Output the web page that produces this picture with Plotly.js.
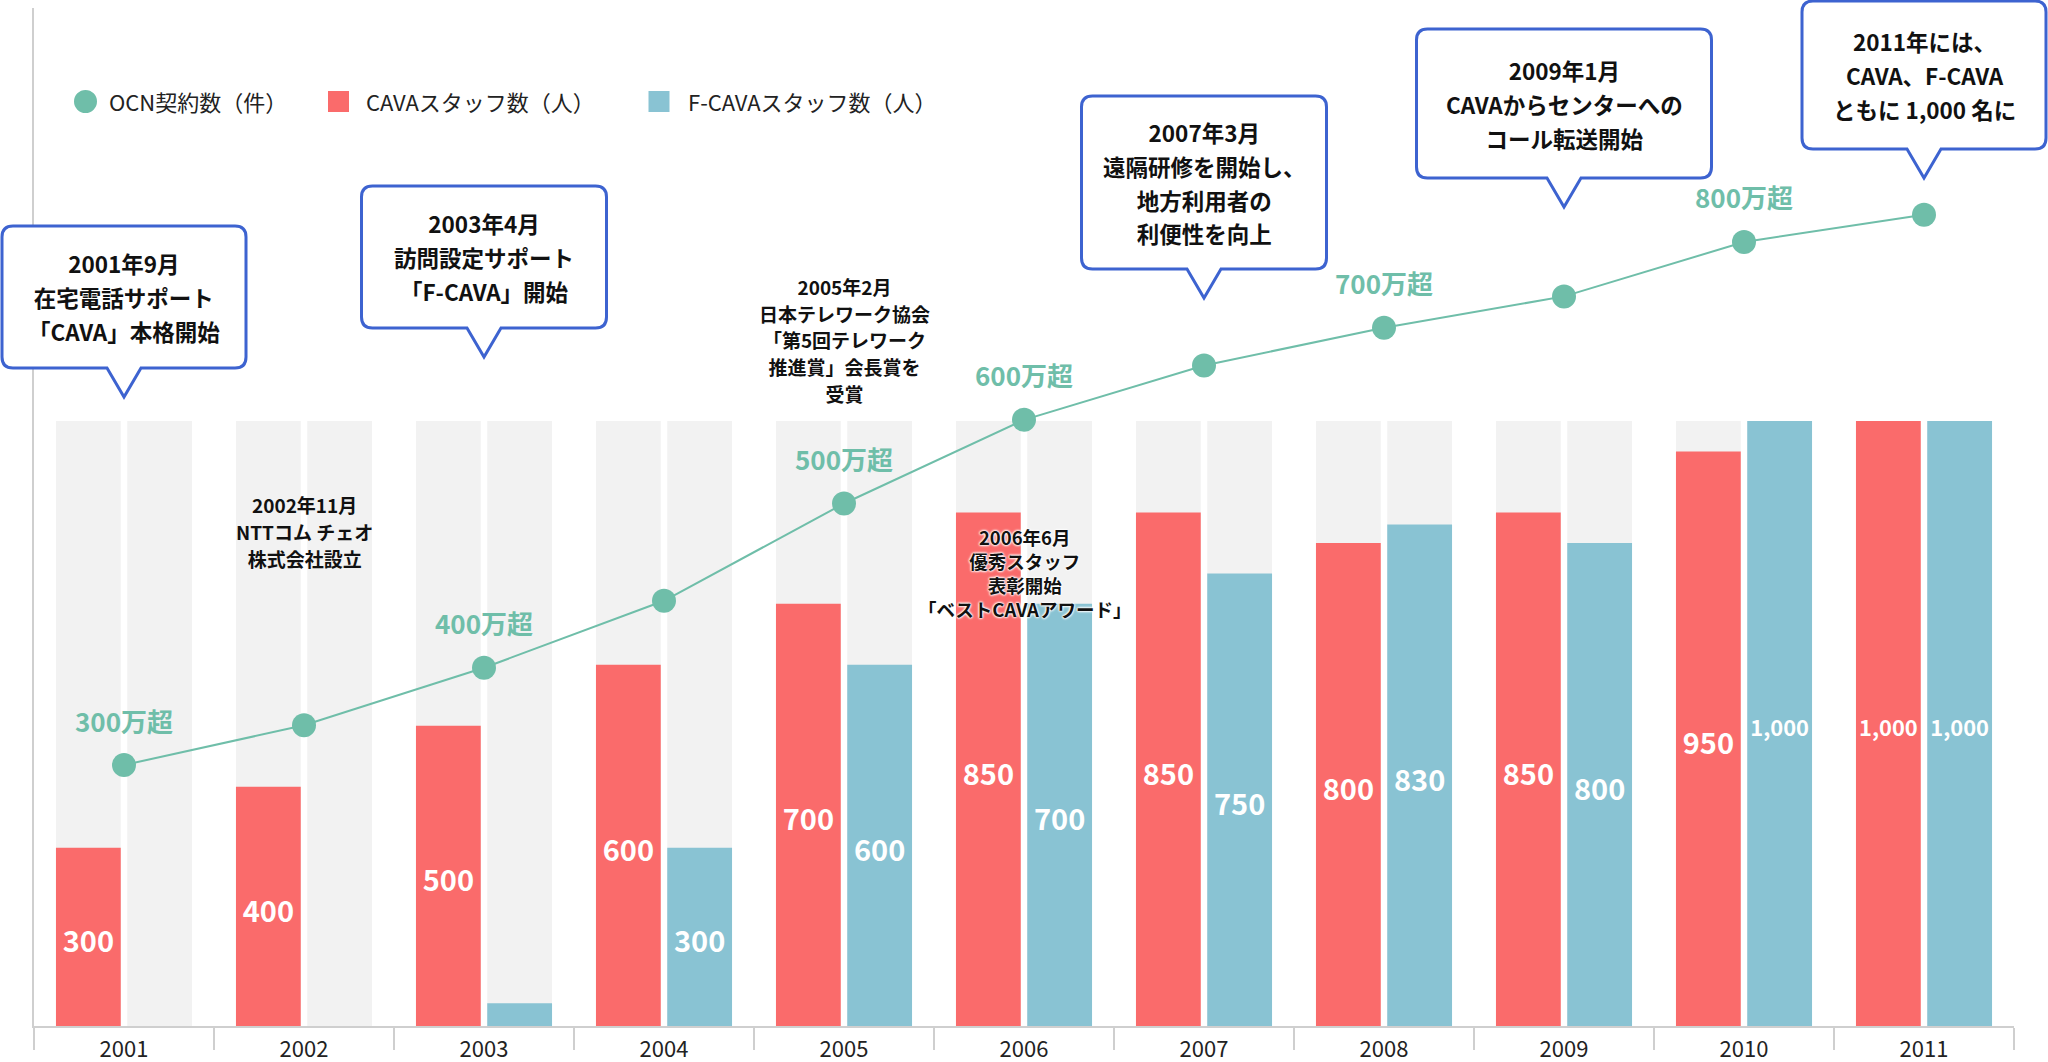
<!DOCTYPE html>
<html>
<head>
<meta charset="utf-8">
<script src="https://cdn.plot.ly/plotly-3.0.1.min.js"></script>
<style>html,body{margin:0;padding:0;background:#fff;}</style>
</head>
<body>
<div id="chart" style="width:2048px;height:1062px;"></div>
<script>
// ---------------- DATA ----------------
const years = ['2001','2002','2003','2004','2005','2006','2007','2008','2009','2010','2011'];
const cavaStaff  = [300, 400, 500, 600, 700, 850, 850, 800, 850, 950, 1000];
const fcavaStaff = [0, 0, 45, 300, 600, 700, 750, 830, 800, 1000, 1000];
const cavaLabels  = ['300','400','500','600','700','850','850','800','850','950','1,000'];
const fcavaLabels = ['','','','300','600','700','750','830','800','1,000','1,000'];
const staffScaleMax = [1000, 1000, 1000, 1000, 1000, 1000, 1000, 1000, 1000, 1000, 1000];
// OCN契約数（万件）
const ocnSubscribers = [310, 348, 403, 467, 560, 640, 692, 728, 758, 810, 836];
const ocnMilestones  = ['300万超','','400万超','','500万超','600万超','','700万超','','800万超',''];
const seriesNames = ['OCN契約数（件）', 'CAVAスタッフ数（人）', 'F-CAVAスタッフ数（人）'];

const calloutTexts = [
  ['2001', ['2001年9月','在宅電話サポート','「CAVA」本格開始']],
  ['2003', ['2003年4月','訪問設定サポート','「F-CAVA」開始']],
  ['2007', ['2007年3月','遠隔研修を開始し、','地方利用者の','利便性を向上']],
  ['2009', ['2009年1月','CAVAからセンターへの','コール転送開始']],
  ['2011', ['2011年には、','CAVA、F-CAVA','ともに 1,000 名に']]
];
const noteTexts = [
  ['2002', ['2002年11月','NTTコム チェオ','株式会社設立']],
  ['2005', ['2005年2月','日本テレワーク協会','「第5回テレワーク','推進賞」会長賞を','受賞']],
  ['2006', ['2006年6月','優秀スタッフ','表彰開始','「ベストCAVAアワード」']]
];

// ---------------- STYLE / LAYOUT ----------------
const FONT = '"Noto Sans CJK JP", "Noto Sans", sans-serif';
const W = 2048, H = 1062;
const plotLeft = 34, plotRight = 2014, plotTop = 8, plotBottom = 1026;
const xDom = [plotLeft / W, plotRight / W];
const yDom = [1 - plotBottom / H, 1 - plotTop / H];
const pxX = px => px / W;
const pxY = py => 1 - py / H;
const catIdx = c => years.indexOf(c);
const catPaperX = c => xDom[0] + (catIdx(c) + 0.5) / years.length * (xDom[1] - xDom[0]);

const C_GREEN = '#6fbea9', C_RED = '#fa6b6b', C_BLUE = '#89c3d3', C_BG = '#f2f2f2';
const C_AXIS = '#cfcfcf', C_BORDER = '#3d63d0';
const BAR_W = 0.36, CAVA_OFF = -0.378, FCAVA_OFF = 0.018;

// callout geometry (pixels): tip y, box width, box height
const calloutGeom = {
  '2001': {tipY: 397, w: 244, h: 142},
  '2003': {tipY: 357, w: 245, h: 142},
  '2007': {tipY: 298, w: 245, h: 173},
  '2009': {tipY: 207, w: 295, h: 149},
  '2011': {tipY: 178, w: 244, h: 148}
};
const TAIL_H = 29, TAIL_W = 34, RADIUS = 11;
const noteGeom = {
  '2002': {cy: 531, pitchFont: 20.8, size: 19, halo: false},
  '2005': {cy: 340, pitchFont: 20.5, size: 19, halo: false},
  '2006': {cy: 573, pitchFont: 18.5, size: 18.5, halo: true}
};

function calloutPath(w, h) {
  const L = -w / 2, R = w / 2, B = TAIL_H, T = TAIL_H + h, r = RADIUS;
  return `M ${-TAIL_W/2},${B} L 0,0 L ${TAIL_W/2},${B} L ${R-r},${B} Q ${R},${B} ${R},${B+r} ` +
         `L ${R},${T-r} Q ${R},${T} ${R-r},${T} L ${L+r},${T} Q ${L},${T} ${L},${T-r} ` +
         `L ${L},${B+r} Q ${L},${B} ${L+r},${B} Z`;
}

// ---------------- TRACES ----------------
const bgTrace = off => ({
  type: 'bar', x: years, y: staffScaleMax, offset: off, width: BAR_W,
  marker: {color: C_BG, line: {width: 0}}, hoverinfo: 'skip', showlegend: false
});
const staffTrace = (name, vals, labels, off, color) => ({
  type: 'bar', name: name, x: years, y: vals, offset: off, width: BAR_W,
  text: labels, texttemplate: '%{text}', textposition: 'inside', insidetextanchor: 'middle', textangle: 0,
  textfont: {family: FONT, size: 29, color: '#ffffff', weight: 700},
  marker: {color: color, line: {width: 0}}, showlegend: false
});

const traces = [
  bgTrace(CAVA_OFF),
  bgTrace(FCAVA_OFF),
  staffTrace(seriesNames[1], cavaStaff, cavaLabels, CAVA_OFF, C_RED),
  staffTrace(seriesNames[2], fcavaStaff, fcavaLabels, FCAVA_OFF, C_BLUE),
  {
    type: 'scatter', mode: 'lines+markers', name: seriesNames[0], x: years, y: ocnSubscribers, yaxis: 'y2',
    line: {color: C_GREEN, width: 2}, marker: {color: C_GREEN, size: 24}, showlegend: false, cliponaxis: false
  }
];

// ---------------- SHAPES & ANNOTATIONS ----------------
const shapes = [];
const annotations = [];

// legend
const legendItems = [
  {name: seriesNames[0], color: C_GREEN, type: 'circle', sx: 85.5, tx: 107},
  {name: seriesNames[1], color: C_RED, type: 'rect', sx: 338.5, tx: 364},
  {name: seriesNames[2], color: C_BLUE, type: 'rect', sx: 659, tx: 686}
];
const LEG_Y = 101.5;
legendItems.forEach(it => {
  const s = it.type === 'circle' ? 11.5 : 10.5;
  shapes.push({type: it.type, xref: 'paper', yref: 'paper', xsizemode: 'pixel', ysizemode: 'pixel',
    xanchor: pxX(it.sx), yanchor: pxY(LEG_Y), x0: -s, x1: s, y0: -s, y1: s,
    fillcolor: it.color, line: {width: 0}, layer: 'above'});
  annotations.push({xref: 'paper', yref: 'paper', x: pxX(it.tx), y: pxY(LEG_Y), xanchor: 'left', yanchor: 'middle',
    text: it.name, showarrow: false, font: {family: FONT, size: 22, color: '#222', weight: 400}});
});

// callouts
calloutTexts.forEach(([cat, lines]) => {
  const g = calloutGeom[cat];
  shapes.push({type: 'path', xref: 'paper', yref: 'paper', xsizemode: 'pixel', ysizemode: 'pixel',
    xanchor: catPaperX(cat), yanchor: pxY(g.tipY), path: calloutPath(g.w, g.h),
    fillcolor: '#ffffff', line: {color: C_BORDER, width: 3}, layer: 'above'});
  annotations.push({xref: 'paper', yref: 'paper', x: catPaperX(cat), y: pxY(g.tipY), yshift: TAIL_H + g.h / 2,
    xanchor: 'center', yanchor: 'middle', align: 'center', showarrow: false,
    text: '<span style="font-size:22.5px">' + lines.join('<br>') + '</span>',
    font: {family: FONT, size: 26, color: '#111', weight: 700}});
});

// notes
noteTexts.forEach(([cat, lines]) => {
  const g = noteGeom[cat];
  const font = {family: FONT, size: g.pitchFont, color: '#111', weight: 700};
  if (g.halo) font.shadow = '0 0 3px #fff, 0 0 3px #fff, 0 0 2px #fff, 0 0 2px #fff';
  annotations.push({xref: 'x', yref: 'paper', x: catIdx(cat), y: pxY(g.cy), xanchor: 'center', yanchor: 'middle',
    align: 'center', showarrow: false,
    text: '<span style="font-size:' + g.size + 'px">' + lines.join('<br>') + '</span>', font: font});
});

// OCN milestones
years.forEach((yr, i) => {
  if (!ocnMilestones[i]) return;
  annotations.push({xref: 'x', yref: 'y2', x: i, y: ocnSubscribers[i], yshift: 45, xanchor: 'center', yanchor: 'middle',
    showarrow: false, text: ocnMilestones[i], font: {family: FONT, size: 26, color: C_GREEN, weight: 700}});
});

const layout = {
  width: W, height: H, margin: {l: 0, r: 0, t: 0, b: 0},
  paper_bgcolor: '#ffffff', plot_bgcolor: 'rgba(0,0,0,0)',
  barmode: 'overlay', showlegend: false, hovermode: false,
  font: {family: FONT},
  xaxis: {
    type: 'category', domain: xDom, range: [-0.5, years.length - 0.5],
    showline: true, linecolor: C_AXIS, linewidth: 2,
    ticks: 'outside', tickson: 'boundaries', ticklen: 22, tickwidth: 1.5, tickcolor: C_AXIS,
    tickfont: {family: FONT, size: 22, color: '#222'}, ticklabelstandoff: 3,
    showgrid: false, zeroline: false
  },
  yaxis: {
    domain: yDom, range: [7.5, 1677.5], showline: true, linecolor: C_AXIS, linewidth: 2,
    showgrid: false, zeroline: false, showticklabels: false, ticks: ''
  },
  yaxis2: {overlaying: 'y', range: [60.5, 1033.7], visible: false, showgrid: false, zeroline: false},
  shapes: shapes,
  annotations: annotations
};

Plotly.newPlot('chart', traces, layout, {displayModeBar: false, staticPlot: true});
</script>
</body>
</html>
